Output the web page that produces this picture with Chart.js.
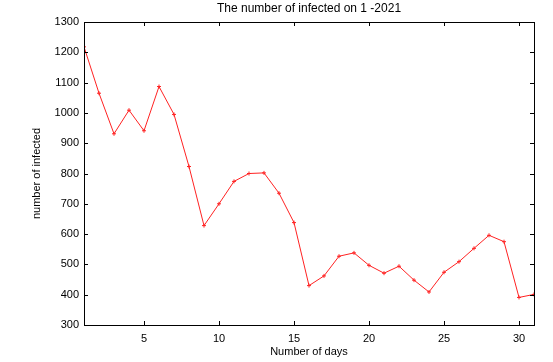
<!DOCTYPE html>
<html>
<head>
<meta charset="utf-8">
<script src="https://cdn.jsdelivr.net/npm/chart.js@4"></script>
<style>
  html, body { margin: 0; padding: 0; background: #fff; }
  #wrap { width: 553px; height: 362px; }
</style>
</head>
<body>
<div id="wrap"><canvas id="infectedChart"></canvas></div>
<script>
// Data
const days = [1, 2, 3, 4, 5, 6, 7, 8, 9, 10, 11, 12, 13, 14, 15, 16,
              17, 18, 19, 20, 21, 22, 23, 24, 25, 26, 27, 28, 29, 30, 31];
const infected = [1218, 1065, 931, 1009, 941, 1087, 995, 823, 628, 700, 774, 800, 802, 735, 638, 430,
                  462, 527, 538, 497, 471, 494, 448, 409, 474, 509, 553, 596, 575, 391, 401];
const xTicks = [5, 10, 15, 20, 25, 30];
const yTicks = [300, 400, 500, 600, 700, 800, 900, 1000, 1100, 1200, 1300];
const chartTitle = 'The number of infected on 1 -2021';

const fontFamily = '"Liberation Sans", Arial, sans-serif';

// Box border, inward (mirrored) ticks and a title centred over the plot, like gnuplot
const frame = {
    id: 'frame',
    afterDatasetsDraw(chart) {
        const { ctx, chartArea: a, scales } = chart;
        const len = 4;
        ctx.save();
        ctx.strokeStyle = '#000';
        ctx.lineWidth = 1;
        ctx.beginPath();
        xTicks.forEach(v => {
            const x = Math.round(scales.x.getPixelForValue(v)) + 0.5;
            ctx.moveTo(x, a.bottom); ctx.lineTo(x, a.bottom - len);
            ctx.moveTo(x, a.top); ctx.lineTo(x, a.top + len);
        });
        yTicks.forEach(v => {
            const y = Math.round(scales.y.getPixelForValue(v)) + 0.5;
            ctx.moveTo(a.left, y); ctx.lineTo(a.left + len, y);
            ctx.moveTo(a.right, y); ctx.lineTo(a.right - len, y);
        });
        ctx.stroke();
        ctx.strokeRect(Math.round(a.left) + 0.5, Math.round(a.top) + 0.5,
                       Math.round(a.right - a.left), Math.round(a.bottom - a.top));

        ctx.fillStyle = '#000';
        ctx.font = '12px ' + fontFamily;
        ctx.textAlign = 'center';
        ctx.textBaseline = 'middle';
        ctx.fillText(chartTitle, (a.left + a.right) / 2, 9);
        ctx.restore();
    }
};

const ctx = document.getElementById('infectedChart').getContext('2d');
new Chart(ctx, {
    type: 'line',
    data: {
        datasets: [{
            label: 'infected',
            data: days.map((d, i) => ({ x: d, y: infected[i] })),
            borderColor: '#f22',
            borderWidth: 1,
            pointStyle: 'cross',
            pointRadius: 2,
            pointBorderWidth: 1,
            pointBorderColor: '#f22',
            tension: 0,
            fill: false
        }]
    },
    options: {
        responsive: true,
        maintainAspectRatio: false,
        animation: false,
        layout: { padding: { left: 0, right: 19, top: 22, bottom: 0 } },
        plugins: {
            legend: { display: false },
            tooltip: { enabled: false },
            title: { display: false }
        },
        scales: {
            x: {
                type: 'linear',
                min: 1,
                max: 31,
                afterBuildTicks: scale => { scale.ticks = xTicks.map(v => ({ value: v })); },
                afterFit: scale => { scale.height = 37; },
                grid: { display: false, drawTicks: false, tickLength: 0 },
                border: { display: false },
                ticks: {
                    color: '#000',
                    padding: 7,
                    maxRotation: 0,
                    font: { family: fontFamily, size: 11 },
                    callback: v => String(v)
                },
                title: {
                    display: true,
                    text: 'Number of days',
                    color: '#000',
                    font: { family: fontFamily, size: 11 },
                    padding: { top: 0, bottom: 3 }
                }
            },
            y: {
                type: 'linear',
                min: 300,
                max: 1300,
                afterBuildTicks: scale => { scale.ticks = yTicks.map(v => ({ value: v })); },
                afterFit: scale => { scale.width = 84; },
                grid: { display: false, drawTicks: false, tickLength: 0 },
                border: { display: false },
                ticks: {
                    color: '#000',
                    padding: 5,
                    font: { family: fontFamily, size: 11 },
                    callback: v => String(v)
                },
                title: {
                    display: true,
                    text: 'number of infected',
                    color: '#000',
                    font: { family: fontFamily, size: 11 },
                    padding: { top: 30, bottom: 0 }
                }
            }
        }
    },
    plugins: [frame]
});
</script>
</body>
</html>
